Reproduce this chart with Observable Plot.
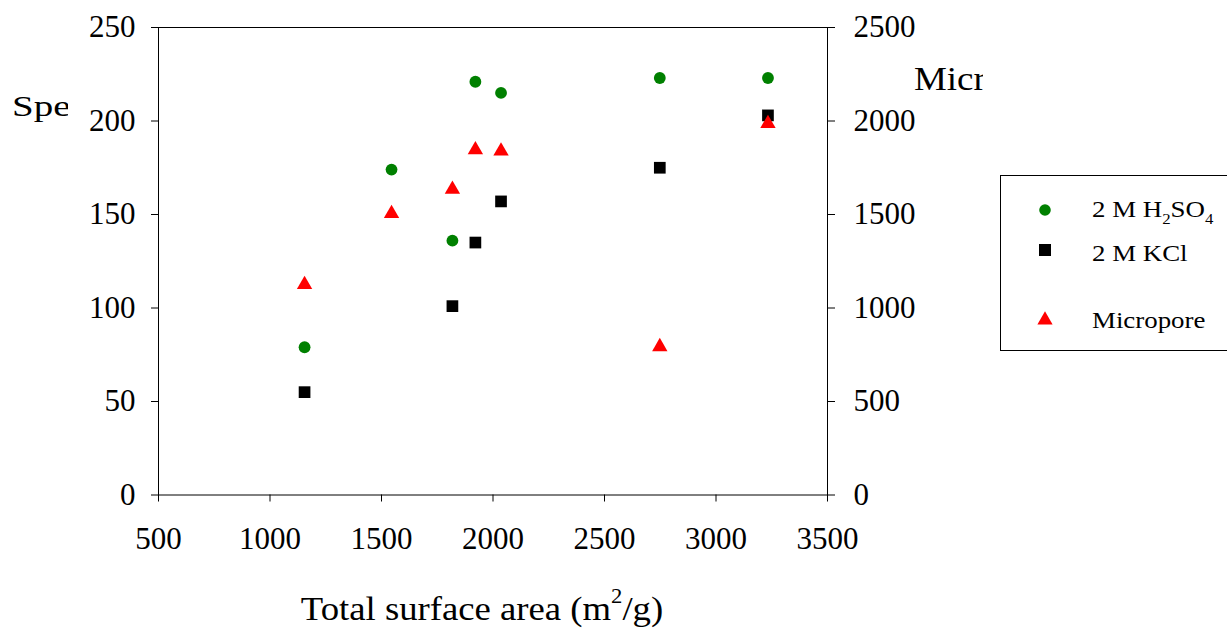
<!DOCTYPE html>
<html><head><meta charset="utf-8">
<script src="https://cdn.jsdelivr.net/npm/d3@7"></script>
<script src="https://cdn.jsdelivr.net/npm/@observablehq/plot@0.6"></script>
<style>body{margin:0;background:#fff} #chart{width:1227px;height:630px}</style>
</head><body><div id="chart"></div>
<script>
// ---- data ----
const surfaceArea = [1155, 1545, 1818, 1921, 2036, 2748, 3233];
const h2so4 = [79, 174, 136, 221, 215, 223, 223];
const kcl = [55, null, 101, 135, 157, 175, 203];
const micropore = [1125, 1505, 1634, 1846, 1839, 793, 1986];
const seriesNames = ["2 M H_2SO_4", "2 M KCl", "Micropore"];
const seriesColors = ["#008000", "#000000", "#ff0000"];
const seriesSymbols = ["circle", "square", "triangle"];
const xTicks = [500, 1000, 1500, 2000, 2500, 3000, 3500];
const yLeftTicks = [0, 50, 100, 150, 200, 250];
const yRightTicks = [0, 500, 1000, 1500, 2000, 2500];
const xTitle = ["Total surface area (m", "2", "/g)"];
const yLeftTitle = "Specific capacitance (F/g)";
const yRightTitle = "Micropore surface area (m2/g)";
const ratio = 10; // right axis / left axis

const rows = surfaceArea.map((x, i) => ({x, h2so4: h2so4[i], kcl: kcl[i], micro: micropore[i]}));
const font = "'Liberation Serif','Times New Roman',serif";

const plot = Plot.plot({
  width: 1227, height: 630,
  marginLeft: 158, marginRight: 400, marginTop: 27, marginBottom: 135.5,
  style: {fontFamily: font, fontSize: "31px", color: "#000", background: "#fff"},
  x: {domain: [500, 3500]},
  y: {domain: [0, 250]},
  marks: [
    Plot.frame({stroke: "#000"}),
    Plot.axisX({ticks: xTicks, tickSize: 7, tickPadding: 25, label: null, tickFormat: d => String(d)}),
    Plot.axisY({ticks: yLeftTicks, anchor: "left", tickSize: 7, tickPadding: 16, label: null, tickFormat: d => String(d)}),
    Plot.axisY({ticks: yRightTicks.map(v => v / ratio), anchor: "right", tickSize: 7, tickPadding: 19, label: null, tickFormat: d => String(Math.round(d * ratio))}),
    Plot.dot(rows.filter(d => d.kcl != null), {x: "x", y: "kcl", symbol: "square", fill: seriesColors[1], r: 6.6}),
    Plot.dot(rows, {x: "x", y: d => d.micro / ratio, symbol: "triangle", fill: seriesColors[2], r: 5.7}),
    Plot.dot(rows, {x: "x", y: "h2so4", symbol: "circle", fill: seriesColors[0], r: 5.9})
  ]
});
document.getElementById("chart").appendChild(plot);

const svg = d3.select(plot);
const defs = svg.append("defs");
defs.append("clipPath").attr("id", "clipL").append("rect").attr("x", 0).attr("y", 0).attr("width", 68).attr("height", 630);
defs.append("clipPath").attr("id", "clipR").append("rect").attr("x", 0).attr("y", 0).attr("width", 983).attr("height", 630);

function stretchedText(parent, x, y, size, sx, anchor) {
  return parent.append("text").attr("transform", `translate(${x},${y}) scale(${sx},1)`)
    .attr("text-anchor", anchor).attr("font-size", size).attr("fill", "#000");
}

stretchedText(svg.append("g").attr("clip-path", "url(#clipL)"), 12, 116, 30, 1.3, "start").text(yLeftTitle);
stretchedText(svg.append("g").attr("clip-path", "url(#clipR)"), 914, 90, 33, 1.12, "start").text(yRightTitle);

// x title with superscript
const xt = stretchedText(svg, 482, 620, 34, 1.08, "middle");
xt.append("tspan").text(xTitle[0]);
xt.append("tspan").attr("dy", -17).attr("font-size", 21).text(xTitle[1]);
xt.append("tspan").attr("dy", 17).text(xTitle[2]);

// legend
const lg = svg.append("g").attr("text-anchor", "start");
lg.append("rect").attr("x", 1000.5).attr("y", 175.5).attr("width", 260).attr("height", 175)
  .attr("fill", "#fff").attr("stroke", "#000").attr("stroke-width", 1);
const symYs = [210, 250, 320];
const textYs = [217, 261, 328];
const symMap = {circle: d3.symbolCircle, square: d3.symbolSquare, triangle: d3.symbolTriangle};
const symSizes = {circle: Math.PI * 5.8 * 5.8, square: 144, triangle: 100};
seriesNames.forEach((name, i) => {
  lg.append("path").attr("transform", `translate(1045,${symYs[i]})`)
    .attr("d", d3.symbol(symMap[seriesSymbols[i]], symSizes[seriesSymbols[i]])())
    .attr("fill", seriesColors[i]);
  const t = stretchedText(lg, 1092, textYs[i], 24, 1.12, "start");
  const parts = name.split(/_(\d)/);
  parts.forEach((p, j) => {
    if (!p) return;
    if (j % 2 === 1) {
      t.append("tspan").attr("dy", 7).attr("font-size", 15).text(p);
    } else {
      const ts = t.append("tspan").text(p);
      if (j > 0) ts.attr("dy", -7);
    }
  });
});
</script>
</body></html>
